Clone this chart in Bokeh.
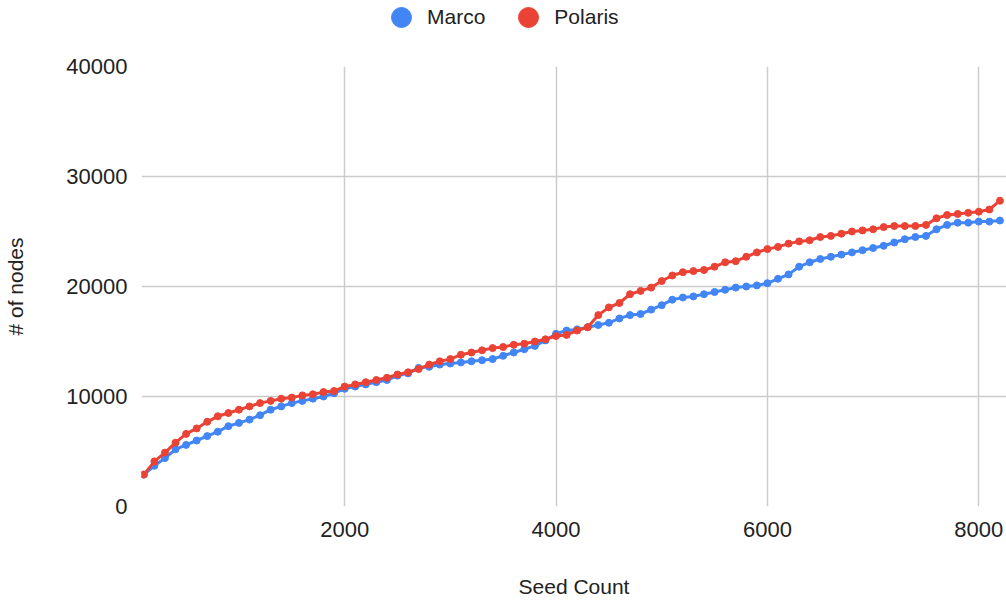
from bokeh.plotting import figure
from bokeh.models import Legend, LegendItem, FixedTicker, Range1d
from bokeh.layouts import column
from bokeh.embed import file_html
from bokeh.resources import INLINE

seed_count = [100 * k for k in range(1, 83)]

marco = [
    2900, 3700, 4400, 5200, 5600, 6000, 6400, 6800, 7300, 7600,
    7900, 8300, 8800, 9100, 9400, 9600, 9800, 10000, 10300, 10700,
    10900, 11100, 11300, 11500, 11900, 12100, 12600, 12700, 12900, 13000,
    13100, 13200, 13300, 13400, 13700, 14000, 14300, 14600, 15100, 15700,
    16000, 16100, 16300, 16500, 16700, 17100, 17400, 17500, 17900, 18300,
    18800, 19000, 19100, 19300, 19500, 19700, 19900, 20000, 20100, 20300,
    20700, 21100, 21800, 22200, 22500, 22700, 22900, 23100, 23300, 23500,
    23700, 24000, 24300, 24500, 24600, 25200, 25600, 25800, 25800, 25900,
    25900, 26000,
]

polaris = [
    2900, 4100, 4900, 5800, 6600, 7100, 7700, 8200, 8500, 8800,
    9100, 9400, 9600, 9800, 9900, 10100, 10200, 10400, 10500, 10900,
    11100, 11300, 11500, 11700, 12000, 12200, 12500, 12900, 13200, 13400,
    13800, 14000, 14200, 14400, 14500, 14700, 14800, 15000, 15200, 15500,
    15600, 16000, 16300, 17400, 18100, 18500, 19300, 19600, 19900, 20500,
    21000, 21300, 21400, 21500, 21800, 22200, 22300, 22700, 23100, 23400,
    23600, 23900, 24100, 24200, 24500, 24600, 24800, 25000, 25100, 25200,
    25400, 25500, 25500, 25500, 25600, 26200, 26500, 26600, 26700, 26800,
    27000, 27800,
]

series_names = ["Marco", "Polaris"]
x_ticks = [2000, 4000, 6000, 8000]
y_ticks = [0, 10000, 20000, 30000, 40000]

BLUE = "#4285F4"
RED = "#EA4335"
FONT = "Liberation Sans"
TXT = "#222222"

# ---- legend strip on top (series drawn off its visible range; only the legend shows) ----
LEG_H = 40
lg = figure(width=1006, height=LEG_H, output_backend="svg", toolbar_location=None,
            x_range=Range1d(0, 1), y_range=Range1d(-2, -1),
            x_axis_type=None, y_axis_type=None,
            min_border_left=0, min_border_right=0, min_border_top=0,
            min_border_bottom=0)
lg.outline_line_color = None
lg.xgrid.visible = False
lg.ygrid.visible = False
r_m = lg.scatter(seed_count, marco, size=7, fill_color=BLUE, line_color=BLUE)
r_p = lg.scatter(seed_count, polaris, size=7, fill_color=RED, line_color=RED)
legend = Legend(items=[LegendItem(label=series_names[0], renderers=[r_m]),
                       LegendItem(label=series_names[1], renderers=[r_p])],
                orientation="horizontal", location=(235, -2),
                glyph_width=50, glyph_height=50, label_standoff=1,
                spacing=18, padding=0, margin=0,
                border_line_color=None, background_fill_alpha=0,
                label_text_font=FONT, label_text_font_size="21px",
                label_text_color=TXT)
lg.add_layout(legend, "center")

# ---- main chart ----
p = figure(width=1006, height=602 - LEG_H, output_backend="svg", toolbar_location=None,
           x_range=Range1d(78, 8262), y_range=Range1d(0, 40000),
           min_border_left=141, min_border_right=0, min_border_top=66 - LEG_H,
           min_border_bottom=96)
p.outline_line_color = None

p.xgrid.ticker = FixedTicker(ticks=x_ticks)
p.ygrid.ticker = FixedTicker(ticks=y_ticks)
for g in (p.xgrid, p.ygrid):
    g.grid_line_color = "#cccccc"
    g.grid_line_width = 1.5

p.xaxis.ticker = FixedTicker(ticks=x_ticks)
p.yaxis.ticker = FixedTicker(ticks=y_ticks)
for ax in (p.xaxis, p.yaxis):
    ax.axis_line_color = None
    ax.major_tick_line_color = None
    ax.minor_tick_line_color = None
    ax.major_label_text_font = FONT
    ax.major_label_text_font_size = "22px"
    ax.major_label_text_color = TXT
    ax.axis_label_text_font = FONT
    ax.axis_label_text_font_size = "21px"
    ax.axis_label_text_font_style = "normal"
    ax.axis_label_text_color = TXT
p.xaxis.axis_label = "Seed Count"
p.yaxis.axis_label = "# of nodes"
p.xaxis.major_label_standoff = 9
p.yaxis.major_label_standoff = 8
p.xaxis.axis_label_standoff = 35
p.yaxis.axis_label_standoff = 36

p.line(seed_count, marco, line_color=BLUE, line_width=3)
p.scatter(seed_count, marco, size=7, fill_color=BLUE, line_color=BLUE)
p.line(seed_count, polaris, line_color=RED, line_width=3)
p.scatter(seed_count, polaris, size=7, fill_color=RED, line_color=RED)

layout = column(lg, p, spacing=0)
open("out.html", "w").write(file_html(layout, INLINE))
